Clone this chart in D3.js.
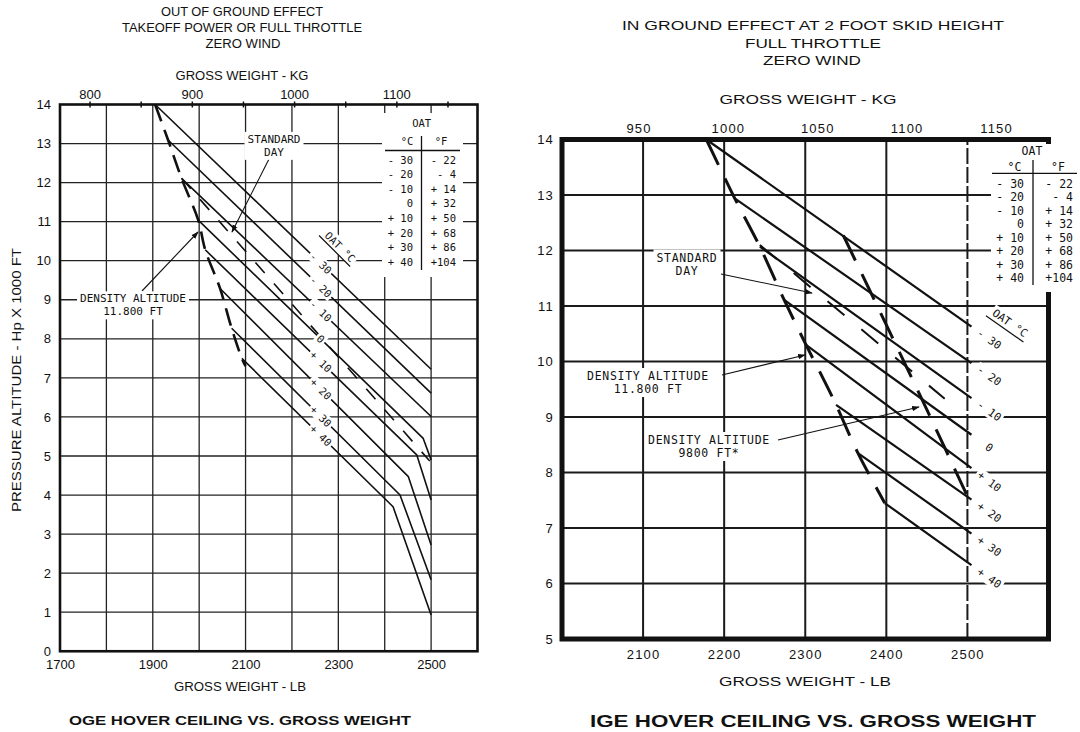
<!DOCTYPE html>
<html>
<head>
<meta charset="utf-8">
<script src="https://cdn.jsdelivr.net/npm/d3@7"></script>
<style>
  body { margin: 0; background: #fff; }
  svg { display: block; }
</style>
</head>
<body>
<svg id="chart" width="1080" height="732"></svg>
<script>
// Hover ceiling charts (OGE / IGE) redrawn with D3

const LB_PER_KG = 2.20462

// OAT labels shared by both charts
const oatC = ['- 30', '- 20', '- 10', '0', '+ 10', '+ 20', '+ 30', '+ 40']
const oatF = ['- 22', '-  4', '+ 14', '+ 32', '+ 50', '+ 68', '+ 86', '+104']

// OGE chart, points are [gross weight lb, pressure altitude x 1000 ft]
const ogeOat = [
  [[1905, 14.0], [2500, 7.22]],
  [[1933, 13.09], [2500, 6.61]],
  [[1962, 12.11], [2500, 6.01]],
  [[1998, 11.04], [2483, 5.45], [2500, 4.90]],
  [[2013, 10.28], [2469, 5.03], [2500, 3.87]],
  [[2045, 9.29], [2451, 4.47], [2500, 2.72]],
  [[2070, 8.27], [2433, 4.00], [2500, 1.83]],
  [[2092, 7.50], [2418, 3.70], [2500, 0.93]]
]
const ogeDensityAlt = [[1905, 14.0], [1933, 13.09], [1962, 12.11], [1998, 11.04], [2013, 10.28],
  [2045, 9.29], [2070, 8.27], [2092, 7.50], [2100, 7.30]]
const ogeStandardDay = [[1962, 12.11], [2497, 4.87]]
const ogeLbTicks = [1700, 1900, 2100, 2300, 2500]
const ogeLbGrid = [1800, 1900, 2000, 2100, 2200, 2300, 2400, 2500]
const ogeKgTicks = [800, 850, 900, 950, 1000, 1050, 1100, 1150]
const ogeKgLabels = [800, 900, 1000, 1100]
const ogeAltTicks = [0, 1, 2, 3, 4, 5, 6, 7, 8, 9, 10, 11, 12, 13, 14]

// IGE chart
const igeOat = [
  [[2178, 14.0], [2505, 10.63]],
  [[2213, 12.94], [2505, 9.97]],
  [[2244, 12.07], [2505, 9.34]],
  [[2274, 11.11], [2505, 8.68]],
  [[2301, 10.30], [2505, 8.08]],
  [[2338, 9.22], [2505, 7.51]],
  [[2365, 8.35], [2505, 6.90]],
  [[2398, 7.45], [2505, 6.33]]
]
const igeDensityAlt = [[2178, 14.0], [2198, 13.39], [2213, 12.94], [2244, 12.07], [2274, 11.11],
  [2301, 10.30], [2326, 9.58], [2338, 9.22], [2365, 8.35], [2398, 7.45]]
const igeDensityAlt9800 = [[2347, 12.27], [2400, 10.66], [2451, 9.10], [2501, 7.54]]
const igeStandardDay = [[2244, 12.1], [2472, 9.33]]
const igeLbTicks = [2100, 2200, 2300, 2400, 2500]
const igeLbGrid = [2100, 2200, 2300, 2400, 2500]
const igeKgTicks = [950, 1000, 1050, 1100, 1150]
const igeAltTicks = [5, 6, 7, 8, 9, 10, 11, 12, 13, 14]

const sans = '"Liberation Sans", Arial, Helvetica, sans-serif'
const mono = '"DejaVu Sans Mono", "Liberation Mono", monospace'
const ink = '#111'

const svg = d3.select('#chart')

const defs = svg.append('defs')
defs.append('marker')
  .attr('id', 'arrow')
  .attr('viewBox', '0 0 10 10')
  .attr('refX', 9).attr('refY', 5)
  .attr('markerWidth', 7).attr('markerHeight', 7)
  .attr('orient', 'auto')
  .append('path')
  .attr('d', 'M0,1.5L10,5L0,8.5Z')
  .attr('fill', ink)

function label(x, y, s, o) {
  const t = svg.append('text')
    .attr('x', x).attr('y', y).attr('dy', '0.35em')
    .attr('text-anchor', o.anchor || 'middle')
    .attr('font-family', o.family || sans)
    .attr('font-size', o.size)
    .attr('font-weight', o.weight || 'normal')
    .attr('fill', ink)
    .text(s)
  if (o.width) t.attr('textLength', o.width).attr('lengthAdjust', 'spacingAndGlyphs')
  if (o.rotate) t.attr('transform', `rotate(${o.rotate},${x},${y})`)
  return t
}

// text (one or more lines) on a white box, optionally rotated
function boxedText(parent, px, py, angle, lines, f, padX = 1, padY = 1) {
  const grp = parent.append('g').attr('transform', `translate(${px},${py}) rotate(${angle})`)
  const bg = grp.append('rect').attr('fill', '#fff')
  const spans = lines.map((s, k) => grp.append('text')
    .attr('x', 0)
    .attr('y', (k - (lines.length - 1) / 2) * (f.lineHeight || 0))
    .attr('dy', '0.35em')
    .attr('text-anchor', 'middle')
    .attr('font-family', f.family)
    .attr('font-size', f.size)
    .attr('letter-spacing', f.spacing || 0)
    .attr('fill', ink)
    .style('white-space', 'pre')
    .text(s))
  const boxes = spans.map(t => t.node().getBBox())
  const bx = d3.min(boxes, b => b.x), by = d3.min(boxes, b => b.y)
  const bb = {
    x: bx, y: by,
    width: d3.max(boxes, b => b.x + b.width) - bx,
    height: d3.max(boxes, b => b.y + b.height) - by
  }
  bg.attr('x', bb.x - padX).attr('y', bb.y - padY)
    .attr('width', bb.width + 2 * padX).attr('height', bb.height + 2 * padY)
  return { grp, bb }
}

function segmentAt(pts, lb) {
  for (let i = 0; i < pts.length - 1; i++) {
    if (lb >= pts[i][0] && lb <= pts[i + 1][0]) return [pts[i], pts[i + 1]]
  }
  return lb < pts[0][0] ? [pts[0], pts[1]] : [pts[pts.length - 2], pts[pts.length - 1]]
}

function drawPanel(c) {
  const x = d3.scaleLinear().domain(c.lbDomain).range(c.xRange)
  const y = d3.scaleLinear().domain(c.altDomain).range(c.yRange)
  const kg = d3.scaleLinear().domain(c.lbDomain.map(v => v / LB_PER_KG)).range(c.xRange)
  const [x0, x1] = c.xRange
  const [y0, y1] = c.yRange
  const g = svg.append('g')

  // grid
  const grid = g.append('g').attr('stroke', c.gridColor).attr('stroke-width', c.gridWidth)
  grid.selectAll('line.gx').data(c.lbGrid).join('line')
    .attr('class', 'gx')
    .attr('x1', d => x(d)).attr('x2', d => x(d))
    .attr('y1', y0).attr('y2', y1)
    .attr('stroke-dasharray', d => d === c.dashedGridAt ? '16,3' : null)
  grid.selectAll('line.gy').data(c.altTicks.slice(1, -1)).join('line')
    .attr('class', 'gy')
    .attr('x1', x0).attr('x2', x1)
    .attr('y1', d => y(d)).attr('y2', d => y(d))

  // axes
  const axFont = a => a.attr('font-family', sans).attr('font-size', c.tickSize)
    .attr('letter-spacing', c.tickSpacing || 0)
  const axL = g.append('g').attr('transform', `translate(${x0},0)`)
    .call(d3.axisLeft(y).tickValues(c.altTicks).tickSize(0).tickPadding(c.yPad).tickFormat(d3.format('d')))
  const axB = g.append('g').attr('transform', `translate(0,${y0})`)
    .call(d3.axisBottom(x).tickValues(c.lbTicks).tickSize(0).tickPadding(c.xPad).tickFormat(d3.format('d')))
  const axT = g.append('g').attr('transform', `translate(0,${y1})`)
    .call(d3.axisTop(kg).tickValues(c.kgTicks).tickSize(c.kgTick).tickPadding(c.kgPad)
      .tickFormat(d => c.kgLabels.includes(d) ? d : ''))
  ;[axL, axB, axT].forEach(a => {
    a.select('.domain').remove()
    axFont(a)
    a.selectAll('text').attr('fill', ink)
  })
  axT.selectAll('.tick line').attr('stroke', ink).attr('stroke-width', 1.5).attr('y1', c.kgTickIn)

  // frame
  g.append('rect')
    .attr('x', x0).attr('y', y1)
    .attr('width', x1 - x0).attr('height', y0 - y1)
    .attr('fill', 'none').attr('stroke', ink).attr('stroke-width', c.borderWidth)

  const line = d3.line().x(d => x(d[0])).y(d => y(d[1]))
  const curve = d3.line().x(d => x(d[0])).y(d => y(d[1])).curve(d3.curveCatmullRom)

  // standard day
  g.append('path').datum(c.standardDay).attr('d', line)
    .attr('fill', 'none').attr('stroke', ink)
    .attr('stroke-width', c.sdWidth).attr('stroke-dasharray', c.sdDash)

  // density altitude limits
  c.densityAlts.forEach(da => {
    g.append('path').datum(da).attr('d', curve)
      .attr('fill', 'none').attr('stroke', ink)
      .attr('stroke-width', c.daWidth).attr('stroke-dasharray', c.daDash)
  })

  // OAT lines
  g.append('g').selectAll('path').data(c.oat).join('path')
    .attr('d', line)
    .attr('fill', 'none').attr('stroke', ink)
    .attr('stroke-width', c.oatWidth).attr('stroke-linejoin', 'round')

  // OAT line labels
  c.oat.forEach((pts, i) => {
    const lb = c.labelLb
    const [a, b] = segmentAt(pts, lb)
    const v = a[1] + (b[1] - a[1]) * (lb - a[0]) / (b[0] - a[0])
    const ang = Math.atan2(y(b[1]) - y(a[1]), x(b[0]) - x(a[0])) * 180 / Math.PI
    boxedText(g, x(lb), y(v), ang, [oatC[i]], c.lineFont, 2, 0)
  })

  // "OAT °C" underlined tag
  const tag = boxedText(g, c.oatTag[0], c.oatTag[1], c.oatTag[2], ['OAT °C'], c.lineFont, 2, 1)
  tag.grp.append('line')
    .attr('x1', tag.bb.x - 4).attr('x2', tag.bb.x + tag.bb.width + 2)
    .attr('y1', tag.bb.y + tag.bb.height + 1).attr('y2', tag.bb.y + tag.bb.height + 1)
    .attr('stroke', ink).attr('stroke-width', 1.2)

  // annotations with arrows
  c.notes.forEach(n => {
    g.append('line')
      .attr('x1', n.from[0]).attr('y1', n.from[1])
      .attr('x2', n.to[0]).attr('y2', n.to[1])
      .attr('stroke', ink).attr('stroke-width', 1.1)
      .attr('marker-end', 'url(#arrow)')
    boxedText(g, n.at[0], n.at[1], 0, n.text, c.noteFont, 3, 1)
  })

  // OAT legend table
  const L = c.legend
  const lg = g.append('g')
    .attr('font-family', mono).attr('font-size', L.size).attr('fill', ink)
    .style('white-space', 'pre')
  lg.append('rect').attr('x', L.box[0]).attr('y', L.box[1])
    .attr('width', L.box[2]).attr('height', L.box[3]).attr('fill', '#fff')
  lg.append('text').attr('x', L.oat[0]).attr('y', L.oat[1]).attr('dy', '0.35em')
    .attr('text-anchor', 'middle').text('OAT')
  lg.append('text').attr('x', L.cHead).attr('y', L.headY).attr('dy', '0.35em')
    .attr('text-anchor', 'middle').text('°C')
  lg.append('text').attr('x', L.fHead).attr('y', L.headY).attr('dy', '0.35em')
    .attr('text-anchor', 'middle').text('°F')
  lg.append('line').attr('x1', L.rule[0]).attr('x2', L.rule[1])
    .attr('y1', L.rule[2]).attr('y2', L.rule[2]).attr('stroke', ink).attr('stroke-width', 1.3)
  lg.append('line').attr('x1', L.sep[0]).attr('x2', L.sep[0])
    .attr('y1', L.sep[1]).attr('y2', L.sep[2]).attr('stroke', ink).attr('stroke-width', 1.3)
  lg.selectAll('text.c').data(oatC).join('text')
    .attr('class', 'c')
    .attr('x', L.cRight).attr('y', (d, i) => L.row0 + i * L.rowStep).attr('dy', '0.35em')
    .attr('text-anchor', 'end').text(d => d)
  lg.selectAll('text.f').data(oatF).join('text')
    .attr('class', 'f')
    .attr('x', L.fRight).attr('y', (d, i) => L.row0 + i * L.rowStep).attr('dy', '0.35em')
    .attr('text-anchor', 'end').text(d => d)
}

// ---------- OGE (left) ----------
drawPanel({
  lbDomain: [1700, 2600], xRange: [60, 477.5],
  altDomain: [0, 14], yRange: [651.25, 104.5],
  lbGrid: ogeLbGrid, lbTicks: ogeLbTicks, altTicks: ogeAltTicks,
  kgTicks: ogeKgTicks, kgLabels: ogeKgLabels, kgTick: 3, kgTickIn: 3, kgPad: 3,
  gridColor: '#222', gridWidth: 1.3, borderWidth: 2.6,
  tickSize: 13, yPad: 9, xPad: 9,
  oat: ogeOat, oatWidth: 1.6,
  densityAlts: [ogeDensityAlt], daWidth: 2.6, daDash: '18,9',
  standardDay: ogeStandardDay, sdWidth: 1.6, sdDash: '14,14',
  labelLb: 2262,
  lineFont: { family: mono, size: 10.5 },
  oatTag: [340, 247, 45],
  noteFont: { family: mono, size: 11, lineHeight: 13 },
  notes: [
    { at: [133, 305], text: ['DENSITY ALTITUDE', '11.800 FT'], from: [142, 291], to: [198, 232] },
    { at: [274, 145.5], text: ['STANDARD', 'DAY'], from: [269, 159], to: [232, 232] }
  ],
  legend: {
    size: 10.5, box: [382, 113, 81, 164], oat: [421.7, 123.3],
    headY: 141.7, cHead: 407, fHead: 441,
    rule: [385, 460, 150.5], sep: [421.5, 136, 270],
    row0: 160, rowStep: 14.57, cRight: 413, fRight: 456
  }
})

label(242, 12, 'OUT OF GROUND EFFECT', { size: 12, width: 162 })
label(242, 28, 'TAKEOFF POWER OR FULL THROTTLE', { size: 12, width: 240 })
label(243, 44, 'ZERO WIND', { size: 12, width: 75 })
label(242, 75.5, 'GROSS WEIGHT - KG', { size: 12, width: 133 })
label(240, 687, 'GROSS WEIGHT - LB', { size: 12, width: 132 })
label(240, 720, 'OGE HOVER CEILING VS. GROSS WEIGHT', { size: 13.5, weight: 'bold', width: 342 })
label(17, 380, 'PRESSURE ALTITUDE - Hp X 1000 FT', { size: 12, width: 264, rotate: -90 })

// ---------- IGE (right) ----------
drawPanel({
  lbDomain: [2000, 2600], xRange: [562, 1048.5],
  altDomain: [5, 14], yRange: [639, 139.5],
  lbGrid: igeLbGrid, lbTicks: igeLbTicks, altTicks: igeAltTicks,
  kgTicks: igeKgTicks, kgLabels: igeKgTicks, kgTick: 0, kgTickIn: 0, kgPad: 7,
  gridColor: '#1a1a1a', gridWidth: 2, borderWidth: 5, dashedGridAt: 2500,
  tickSize: 13, tickSpacing: 1.2, yPad: 8, xPad: 11,
  oat: igeOat, oatWidth: 2.2,
  densityAlts: [igeDensityAlt, igeDensityAlt9800], daWidth: 3, daDash: '28,15',
  standardDay: igeStandardDay, sdWidth: 2, sdDash: '22,22',
  labelLb: 2527,
  lineFont: { family: mono, size: 11 },
  oatTag: [1010, 323, 35],
  noteFont: { family: mono, size: 11.5, spacing: 0.7, lineHeight: 13 },
  notes: [
    { at: [687, 264], text: ['STANDARD', 'DAY'], from: [721, 274], to: [812, 293] },
    { at: [648, 382.5], text: ['DENSITY ALTITUDE', '11.800 FT'], from: [722, 375], to: [805, 355] },
    { at: [709, 446.5], text: ['DENSITY ALTITUDE', '9800 FT*'], from: [778, 440], to: [919, 407] }
  ],
  legend: {
    size: 11.5, box: [991, 144, 89, 148], oat: [1032, 151],
    headY: 166.7, cHead: 1014.5, fHead: 1058,
    rule: [992, 1077, 173.3], sep: [1033, 160, 285],
    row0: 184, rowStep: 13.43, cRight: 1024, fRight: 1073
  }
})

label(813, 26, 'IN GROUND EFFECT AT 2 FOOT SKID HEIGHT', { size: 12.5, width: 382 })
label(813, 43.5, 'FULL THROTTLE', { size: 12.5, width: 136 })
label(812, 61, 'ZERO WIND', { size: 12.5, width: 98 })
label(808, 100, 'GROSS WEIGHT - KG', { size: 12.5, width: 177 })
label(805, 682, 'GROSS WEIGHT - LB', { size: 12.5, width: 172 })
label(813, 721, 'IGE HOVER CEILING VS. GROSS WEIGHT', { size: 16, weight: 'bold', width: 446 })
</script>
</body>
</html>
